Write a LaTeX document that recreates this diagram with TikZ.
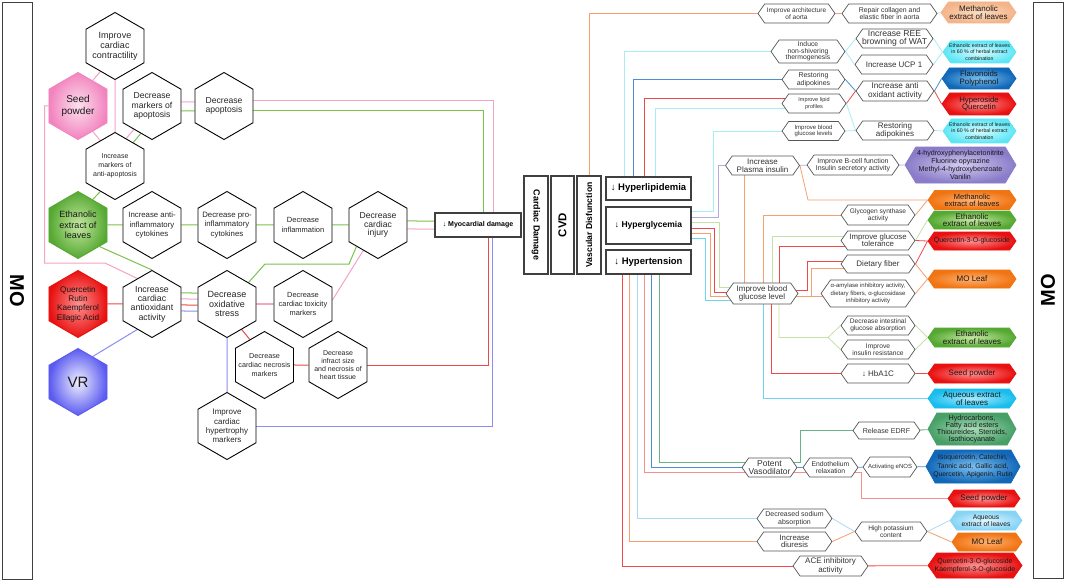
\documentclass[tikz,border=0pt]{standalone}
\usepackage{fontspec}
\setmainfont{Liberation Sans}
\usetikzlibrary{shapes.geometric,shapes.symbols}

\pgfdeclarelayer{bg}
\pgfsetlayers{bg,main}

\newcommand{\fsz}[2]{\fontsize{#1}{#2}\selectfont}

% line colours
\definecolor{linepink}{HTML}{F5A3C7}
\definecolor{linegreen}{HTML}{7CC14A}
\definecolor{linered}{HTML}{F04848}
\definecolor{lineviolet}{HTML}{8C8CF5}
\definecolor{lineorange}{HTML}{F5A070}
\definecolor{linecyan}{HTML}{A8ECF4}
\definecolor{lineblue}{HTML}{4A90D0}
\definecolor{linepurple}{HTML}{B8A8E0}
\definecolor{linelgreen}{HTML}{C4E2A6}
\definecolor{lineaqua}{HTML}{70D4F0}
\definecolor{linesky}{HTML}{A8DCF2}
\definecolor{linelred}{HTML}{F49090}
\definecolor{linedgreen}{HTML}{68B584}
\definecolor{linepeach}{HTML}{F5CBA8}
\definecolor{framegray}{HTML}{404040}
\definecolor{hexgray}{HTML}{555555}
% fill colours
\definecolor{pinkin}{HTML}{FCE0EE}   \definecolor{pinkout}{HTML}{F283BE}
\definecolor{greenin}{HTML}{C5E8A0}  \definecolor{greenout}{HTML}{55A832}
\definecolor{redin}{HTML}{FF9090}    \definecolor{redout}{HTML}{E81010}
\definecolor{vrin}{HTML}{F0F0FF}     \definecolor{vrout}{HTML}{5A5AF0}
\definecolor{peachin}{HTML}{FBDCC0}  \definecolor{peachout}{HTML}{F4B48A}
\definecolor{cyanin}{HTML}{D8FCFF}   \definecolor{cyanout}{HTML}{5EE6F5}
\definecolor{bluein}{HTML}{7CC0F0}   \definecolor{blueout}{HTML}{1268B8}
\definecolor{purplein}{HTML}{D4CCF2} \definecolor{purpleout}{HTML}{8A7CC8}
\definecolor{orangein}{HTML}{FFB070} \definecolor{orangeout}{HTML}{F07412}
\definecolor{aquain}{HTML}{A8ECFF}   \definecolor{aquaout}{HTML}{18BDEE}
\definecolor{dgreenin}{HTML}{A8DDB8} \definecolor{dgreenout}{HTML}{48A068}
\definecolor{skyin}{HTML}{E0F6FF}    \definecolor{skyout}{HTML}{88D4F5}

\tikzset{
  hexv/.style={regular polygon, regular polygon sides=6, shape border rotate=30,
    minimum size=67pt, inner sep=-12pt, draw=black, line width=0.9pt,
    fill=white, align=center, text=black!85},
  hexh/.style={signal, signal to=east and west, signal pointer angle=110,
    draw=hexgray, line width=0.7pt, fill=white, inner xsep=-4pt, inner ysep=0pt,
    align=center, text=black!80},
  hsz/.style 2 args={minimum width=#1, minimum height=#2},
  tint/.style 2 args={inner color=#1, outer color=#2, draw=#2, text=black!90},
  boxm/.style={draw=framegray, line width=1.1pt, fill=white, inner sep=0pt, align=center},
  link/.style={line width=1pt},
  wire/.style={line width=0.8pt}
}

\begin{document}
\begin{tikzpicture}[x=1pt,y=-1pt]
\useasboundingbox (0,0) rectangle (1065,583);

% side frames
\node[draw=framegray, line width=0.9pt, minimum width=30pt, minimum height=577pt, inner sep=0pt,
  font=\bfseries\fsz{20}{22}] (moL) at (17,290.5) {\rotatebox{-90}{MO}};
\node[draw=framegray, line width=0.9pt, minimum width=30pt, minimum height=576pt, inner sep=0pt,
  font=\bfseries\fsz{20}{22}] (moR) at (1048,290) {\rotatebox{90}{MO}};

% cardiac hexagons
\node[hexv, font=\fsz{9}{10}] (contr) at (115,46) {Improve\\cardiac\\contractility};
\node[hexv, tint={pinkin}{pinkout}, font=\fsz{10}{11.5}] (seed) at (78,106) {Seed\\powder};
\node[hexv, font=\fsz{8.6}{9.3}] (mapo) at (152,106) {Decrease\\markers of\\apoptosis};
\node[hexv, font=\fsz{8.6}{9.3}] (dapo) at (224,106) {Decrease\\apoptosis};
\node[hexv, font=\fsz{7}{9}] (antiapo) at (115,166) {Increase\\markers of\\anti-apoptosis};
\node[hexv, tint={greenin}{greenout}, font=\fsz{9}{10.7}] (eth) at (78,225) {Ethanolic\\extract of\\leaves};
\node[hexv, font=\fsz{7.8}{9.2}] (antiinf) at (152,225) {Increase anti-\\inflammatory\\cytokines};
\node[hexv, font=\fsz{7.8}{9.2}] (proinf) at (227,225) {Decrease pro-\\inflammatory\\cytokines};
\node[hexv, font=\fsz{7.5}{9.3}] (infl) at (303,225) {Decrease\\inflammation};
\node[hexv, font=\fsz{8.6}{8.8}] (injury) at (378,225) {Decrease\\cardiac\\injury};
\node[hexv, tint={redin}{redout}, font=\fsz{8.2}{9.3}] (querc) at (78,304) {Quercetin\\Rutin\\Kaempferol\\Ellagic Acid};
\node[hexv, font=\fsz{8.8}{9.3}] (antiox) at (152,304) {Increase\\cardiac\\antioxidant\\activity};
\node[hexv, font=\fsz{9}{9.3}] (oxid) at (227,304) {Decrease\\oxidative\\stress};
\node[hexv, font=\fsz{7.4}{9.3}] (toxic) at (303,304) {Decrease\\cardiac toxicity\\markers};
\node[hexv, tint={vrin}{vrout}, font=\fsz{15}{16}] (vr) at (78,382) {VR};
\node[hexv, font=\fsz{7.2}{9.3}] (necro) at (264.5,365) {Decrease\\cardiac necrosis\\markers};
\node[hexv, font=\fsz{7}{8.2}] (infarct) at (338,365) {Decrease\\infract size\\and necrosis of\\heart tissue};
\node[hexv, font=\fsz{8}{9.3}] (hypert) at (227,426) {Improve\\cardiac\\hypertrophy\\markers};
\node[boxm, minimum width=86pt, minimum height=24pt, font=\bfseries\fsz{7}{8}] (myo) at (478,225) {↓ Myocardial damage};

% central boxes
\node[boxm, minimum width=24pt, minimum height=98pt, font=\bfseries\fsz{9}{10}] (card) at (536,225) {\rotatebox{-90}{Cardiac Damage}};
\node[boxm, minimum width=23pt, minimum height=98pt, font=\bfseries\fsz{11.4}{12}] (cvd) at (562.5,225) {\rotatebox{90}{CVD}};
\node[boxm, minimum width=24pt, minimum height=98pt, font=\bfseries\fsz{8.6}{9}] (vasc) at (589,225) {\rotatebox{90}{Vascular Disfunction}};
\node[boxm, minimum width=85pt, minimum height=23pt, font=\bfseries\fsz{9.5}{10}] (hlip) at (648.5,188.5) {↓ Hyperlipidemia};
\node[boxm, minimum width=85pt, minimum height=37pt, font=\bfseries\fsz{8.5}{9}] (hgly) at (648.5,225.5) {↓ Hyperglycemia};
\node[boxm, minimum width=85pt, minimum height=24pt, font=\bfseries\fsz{9.5}{10}] (hten) at (648.5,262) {↓ Hypertension};

% vascular hexagons
\node[hexh, hsz={77pt}{19pt}, font=\fsz{6.5}{7.3}] (aorta) at (796.5,13.5) {Improve architecture\\of aorta};
\node[hexh, hsz={95pt}{19pt}, font=\fsz{6.9}{7.5}] (repair) at (889.5,13.5) {Repair collagen and\\elastic fiber in aorta};
\node[hexh, hsz={75pt}{21pt}, tint={peachin}{peachout}, font=\fsz{8}{8.3}] (meth1) at (978.5,12.5) {Methanolic\\extract of leaves};
\node[hexh, hsz={74pt}{23pt}, font=\fsz{6.8}{6.5}] (thermo) at (808,51.5) {Induce\\non-shivering\\thermogenesis};
\node[hexh, hsz={77pt}{19pt}, font=\fsz{8.6}{8.5}] (ree) at (894.5,38.5) {Increase REE\\browning of WAT};
\node[hexh, hsz={78pt}{19pt}, font=\fsz{8}{8.5}] (ucp) at (894,64.5) {Increase UCP 1};
\node[hexh, hsz={73pt}{22pt}, tint={cyanin}{cyanout}, font=\fsz{5.2}{6.3}] (eth60a) at (979.5,52) {Ethanolic extract of leaves\\in 60 \% of herbal extract\\combination};
\node[hexh, hsz={63pt}{19pt}, font=\fsz{7}{7.5}] (radip1) at (813.5,79.5) {Restoring\\adipokines};
\node[hexh, hsz={64pt}{19pt}, font=\fsz{5.5}{7.5}] (lipid) at (814,103.5) {Improve lipid\\profiles};
\node[hexh, hsz={63pt}{19pt}, font=\fsz{6}{6.8}] (bglev) at (813.5,131) {Improve blood\\glucose levels};
\node[hexh, hsz={78pt}{20pt}, font=\fsz{8.2}{8.3}] (antiox2) at (895,91) {Increase anti\\oxidant activity};
\node[hexh, hsz={78pt}{19pt}, font=\fsz{8}{8.3}] (radip2) at (895,130.5) {Restoring\\adipokines};
\node[hexh, hsz={74pt}{21pt}, tint={bluein}{blueout}, font=\fsz{7.8}{7.8}] (flav) at (979,78.5) {Flavonoids\\Polyphenol};
\node[hexh, hsz={74pt}{22pt}, tint={redin}{redout}, font=\fsz{7.8}{7.8}] (hyper) at (979,104) {Hyperoside\\Quercetin};
\node[hexh, hsz={73pt}{24pt}, tint={cyanin}{cyanout}, font=\fsz{5.2}{6.3}] (eth60b) at (979.5,131) {Ethanolic extract of leaves\\in 60 \% of herbal extract\\combination};
\node[hexh, hsz={74pt}{19pt}, font=\fsz{8}{7.8}] (insulin) at (762.5,165.5) {Increase\\Plasma insulin};
\node[hexh, hsz={92pt}{20pt}, font=\fsz{7}{7.5}] (bcell) at (853,165) {Improve B-cell function\\Insulin secretory activity};
\node[hexh, hsz={111pt}{36pt}, signal pointer angle=118, tint={purplein}{purpleout}, font=\fsz{7.1}{8}] (phenol) at (960.5,165) {4-hydroxyphenylacetonitrite\\Fluorine opyrazine\\Methyl-4-hydroxybenzoate\\Vanilin};
\node[hexh, hsz={88pt}{19pt}, tint={orangein}{orangeout}, font=\fsz{7.5}{6.8}] (meth2) at (972,200) {Methanolic\\extract of leaves};
\node[hexh, hsz={74pt}{20pt}, font=\fsz{6.6}{7.3}] (glyco) at (878,215) {Glycogen synthase\\activity};
\node[hexh, hsz={88pt}{18pt}, tint={greenin}{greenout}, font=\fsz{8}{7.5}] (eth2) at (972,220) {Ethanolic\\extract of leaves};
\node[hexh, hsz={74pt}{19pt}, font=\fsz{7.8}{7.3}] (gtol) at (878,240.5) {Improve glucose\\tolerance};
\node[hexh, hsz={88pt}{18pt}, tint={redin}{redout}, font=\fsz{7}{8}] (q3g) at (972,241) {Quercetin-3-O-glucoside};
\node[hexh, hsz={74pt}{18pt}, font=\fsz{8}{8}] (fiber) at (878,264) {Dietary fiber};
\node[hexh, hsz={88pt}{18pt}, tint={orangein}{orangeout}, font=\fsz{8}{8}] (moleaf1) at (972,279) {MO Leaf};
\node[hexh, hsz={72pt}{21pt}, font=\fsz{8}{7.5}] (bgl) at (762,293.5) {Improve blood\\glucose level};
\node[hexh, hsz={94pt}{27pt}, font=\fsz{6}{7.2}] (amyl) at (868,293.5) {α-amylase inhibitory activity,\\dietary fibers, α-glucosidase\\inhibitory activity};
\node[hexh, hsz={74pt}{19pt}, font=\fsz{6.6}{7.5}] (dint) at (878,325.5) {Decrease intestinal\\glucose absorption};
\node[hexh, hsz={74pt}{19pt}, font=\fsz{6.7}{7.5}] (ires) at (878,349.5) {Improve\\insulin resistance};
\node[hexh, hsz={88pt}{19pt}, tint={greenin}{greenout}, font=\fsz{8}{8.3}] (eth3) at (972,337.5) {Ethanolic\\extract of leaves};
\node[hexh, hsz={74pt}{19pt}, font=\fsz{8}{8}] (hba) at (878,373.5) {↓ HbA1C};
\node[hexh, hsz={88pt}{19pt}, tint={redin}{redout}, font=\fsz{7.9}{8}] (seed2) at (972,373.5) {Seed powder};
\node[hexh, hsz={88pt}{19pt}, tint={aquain}{aquaout}, font=\fsz{8}{7.7}] (aq1) at (972,398.5) {Aqueous extract\\of leaves};
\node[hexh, hsz={67pt}{17pt}, font=\fsz{7.1}{8}] (edrf) at (886.5,430.5) {Release EDRF};
\node[hexh, hsz={88pt}{32pt}, signal pointer angle=122, tint={dgreenin}{dgreenout}, font=\fsz{7.2}{7}] (hydro) at (972,429) {Hydrocarbons,\\Fatty acid esters\\Thioureides, Steroids,\\Isothiocyanate};
\node[hexh, hsz={55pt}{19pt}, font=\fsz{8.5}{7.8}] (vaso) at (769.5,467.5) {Potent\\Vasodilator};
\node[hexh, hsz={55pt}{19pt}, font=\fsz{6.8}{7.3}] (endo) at (830.5,467.5) {Endothelium\\relaxation};
\node[hexh, hsz={54pt}{20pt}, font=\fsz{6}{7}] (enos) at (890,467) {Activating eNOS};
\node[hexh, hsz={94pt}{33pt}, signal pointer angle=122, tint={bluein}{blueout}, font=\fsz{6.8}{8.5}] (isoq) at (973,466.5) {Isoquercetin, Catechin,\\Tannic acid, Gallic acid,\\Quercetin, Apigenin, Rutin};
\node[hexh, hsz={72pt}{17pt}, tint={redin}{redout}, font=\fsz{8}{8}] (seed3) at (984,498.5) {Seed powder};
\node[hexh, hsz={75pt}{19pt}, font=\fsz{7}{7.5}] (sodium) at (794.5,518.5) {Decreased sodium\\absorption};
\node[hexh, hsz={75pt}{19pt}, font=\fsz{7.8}{7.4}] (diur) at (794.5,541.5) {Increase\\diuresis};
\node[hexh, hsz={72pt}{19pt}, font=\fsz{6.6}{7}] (kpot) at (891,531.5) {High potassium\\content};
\node[hexh, hsz={72pt}{19pt}, tint={skyin}{skyout}, font=\fsz{6.7}{7.3}] (aq2) at (986,520.5) {Aqueous\\extract of leaves};
\node[hexh, hsz={70pt}{18pt}, tint={orangein}{orangeout}, font=\fsz{8}{8}] (moleaf2) at (987,542) {MO Leaf};
\node[hexh, hsz={75pt}{20pt}, font=\fsz{8}{7.3}] (ace) at (830.5,566) {ACE inhibitory\\activity};
\node[hexh, hsz={94pt}{25pt}, tint={redin}{redout}, font=\fsz{6.9}{8}] (qk) at (975,565.5) {Quercetin-3-O-glucoside\\Kaempferol-3-O-glucoside};

\begin{pgfonlayer}{bg}
\fill[white] (0,0) rectangle (1065,583);

% cardiac side
\draw[link, linepink] (seed.60) -- (contr.-120);
\draw[link, linepink] (seed.-60) -- (antiapo.120);
\draw[link, linepink] (contr) -- (antiapo);
\draw[link, linepink] ([shift={(-3.5,-2)}]antiapo.60) -- ([shift={(-3.5,-2)}]mapo.-120);
\draw[link, linegreen] ([shift={(3.5,2)}]antiapo.60) -- ([shift={(3.5,2)}]mapo.-120);
\draw[link, linepink] ([yshift=4pt]mapo.east) -- ([yshift=4pt]dapo.west);
\draw[link, linegreen] ([yshift=-5pt]mapo.east) -- ([yshift=-5pt]dapo.west);
\draw[link, linepink] ([yshift=5pt]dapo.east) -| ([xshift=15pt]myo.north);
\draw[link, linegreen] ([yshift=-5pt]dapo.east) -| ([xshift=5pt]myo.north);
\draw[link, linepink] (seed.west) -- ++(-4,0) |- (105,263) -- (antiox.120);
\draw[link, linegreen] (eth.60) -- (antiapo.-120);
\draw[link, linegreen] (eth) -- (antiinf);
\draw[link, linegreen] (antiinf) -- (proinf);
\draw[link, linegreen] (proinf) -- (infl);
\draw[link, linegreen] (infl) -- (injury);
\draw[link, linegreen] ([yshift=4pt]injury.east) -- ([yshift=4pt]myo.west);
\draw[link, linepink] ([yshift=-4pt]injury.east) -- ([yshift=-4pt]myo.west);
\draw[link, linegreen] (eth.south east) -- (antiox.north);
\draw[link, linered] (querc) -- (antiox);
\draw[link, lineviolet] (vr.60) -- (antiox.-120);
\draw[link, linegreen] ([yshift=11pt]antiox.east) -- ([yshift=11pt]oxid.west);
\draw[link, linepink] ([yshift=5pt]antiox.east) -- ([yshift=5pt]oxid.west);
\draw[link, linered] ([yshift=-1pt]antiox.east) -- ([yshift=-1pt]oxid.west);
\draw[link, lineviolet] ([yshift=-7pt]antiox.east) -- ([yshift=-7pt]oxid.west);
\draw[link, linepink, line width=1.6pt] (oxid) -- (toxic);
\draw[link, linepink] ([yshift=4pt]toxic.east) -- (injury.-120);
\draw[link, linegreen] (oxid.north east) -- (265,264) -- (349,264) -- (injury.south west);
\draw[link, linered] (oxid.-60) -- (necro.120);
\draw[link, linered] (necro) -- (infarct);
\draw[link, linered] (infarct.east) -| ([xshift=10pt]myo.south);
\draw[link, lineviolet] (oxid.south) -- (hypert.north);
\draw[link, lineviolet] (hypert.east) -| ([xshift=14pt]myo.south);

% hyperlipidemia
\draw[wire, lineorange] (vasc.north) |- (aorta.west);
\draw[wire, lineorange] (aorta) -- (repair);
\draw[wire, linepeach] (repair) -- (meth1);
\draw[wire, linecyan] ([xshift=-24.5pt]hlip.north) |- (thermo.west);
\draw[wire, linecyan] (thermo.east) -- (ree.west);
\draw[wire, linecyan] (thermo.east) -- (ucp.west);
\draw[wire, linecyan] (ree.east) -- (eth60a.west);
\draw[wire, linecyan] (ucp.east) -- (eth60a.west);
\draw[wire, lineblue] ([xshift=-15.5pt]hlip.north) |- (radip1.west);
\draw[wire, lineblue] (radip1.east) -- (antiox2.west);
\draw[wire, lineblue] (antiox2.east) -- (flav.west);
\draw[wire, linered] ([xshift=-4.5pt]hlip.north) |- ([yshift=5.5pt]lipid.center);
\draw[wire, linecyan] ([xshift=6.5pt]hlip.north) |- ([yshift=-4.5pt]lipid.center);
\draw[wire, linered] (lipid.east) -- (antiox2.west);
\draw[wire, linered] (antiox2.east) -- (hyper.west);
\draw[wire, linecyan] (lipid.east) -- (radip2.west);
\draw[wire, linecyan] (bglev.east) -- (radip2.west);
\draw[wire, linecyan] (radip2.east) -- (eth60b.west);

% hyperglycemia
\draw[wire, linecyan] ([yshift=14.5pt]hgly.east) -- ++(22,0) |- (bglev.west);
\draw[wire, linepurple] ([yshift=8.5pt]hgly.east) -- ++(27,0) |- (insulin.west);
\draw[wire, linepurple] (insulin) -- (bcell);
\draw[wire, linepurple] (bcell) -- (phenol);
\draw[wire, lineorange] (insulin.east) -- (808,200) -- (meth2.west);
\draw[wire, lineorange] ([xshift=-18.5pt]insulin.south) -- ([xshift=-18pt]bgl.north);
\draw[wire, linelgreen] ([yshift=3.5pt]hgly.east) -| ([xshift=-43pt,yshift=6.5pt]bgl.center) -- ([yshift=6.5pt]bgl.center);
\draw[wire, linered] ([yshift=-2.5pt]hgly.east) -| ([xshift=-48pt,yshift=1.5pt]bgl.center) -- ([yshift=1.5pt]bgl.center);
\draw[wire, lineorange] ([yshift=-7.5pt]hgly.east) -| ([xshift=-52pt,yshift=-3pt]bgl.center) -- ([yshift=-3pt]bgl.center);
\draw[wire, lineaqua] ([yshift=-12.5pt]hgly.east) -| ([xshift=-57pt,yshift=-6.5pt]bgl.center) -- ([yshift=-6.5pt]bgl.center);
\draw[wire, lineorange] ([xshift=1pt]bgl.north) |- (glyco.west);
\draw[wire, lineorange] (glyco.east) -- (meth2.west);
\draw[wire, linelgreen] ([xshift=10pt]bgl.north) |- ([yshift=4.5pt]gtol.center);
\draw[wire, linered] ([xshift=17pt]bgl.north) |- ([yshift=-5.5pt]gtol.center);
\draw[wire, linelgreen] (gtol.east) -- (eth2.west);
\draw[wire, linered] (gtol.east) -- (q3g.west);
\draw[wire, linered] ([yshift=3.5pt]bgl.center) -| ([xshift=-71pt,yshift=3pt]fiber.center) -- ([yshift=3pt]fiber.center);
\draw[wire, lineorange] ([yshift=-3pt]bgl.center) -- ([yshift=-3pt]amyl.center);
\draw[wire, lineorange] ([xshift=-57pt,yshift=-3pt]amyl.center) |- ([yshift=-4pt]fiber.center);
\draw[wire, linered] (fiber.east) -- (q3g.west);
\draw[wire, lineorange] (fiber.east) -- (moleaf1.west);
\draw[wire, lineorange] (amyl.east) -- (moleaf1.west);
\draw[wire, lineaqua] ([xshift=1pt]bgl.south) |- (aq1.west);
\draw[wire, linered] ([xshift=9pt]bgl.south) |- (hba.west);
\coordinate (gsplit) at (828,337.5);
\draw[wire, linelgreen] ([xshift=17pt]bgl.south) |- (gsplit) -- (dint.west);
\draw[wire, linelgreen] (gsplit) -- (ires.west);
\draw[wire, linelgreen] (dint.east) -- (eth3.west);
\draw[wire, linelgreen] (ires.east) -- (eth3.west);
\draw[wire, linered] (hba) -- (seed2);

% hypertension
\draw[wire, linered] ([xshift=-26.5pt]hten.south) |- (ace.west);
\draw[wire, lineorange] ([xshift=-19.5pt]hten.south) |- (diur.west);
\draw[wire, linesky] ([xshift=-11.5pt]hten.south) |- (sodium.west);
\draw[wire, linelred] ([xshift=-4.5pt]hten.south) |- ([yshift=-4.5pt]vaso.center);
\draw[wire, lineblue] ([xshift=2.5pt]hten.south) |- (vaso.center);
\draw[wire, linedgreen] ([xshift=10.5pt]hten.south) |- ([yshift=5.5pt]vaso.center);
\draw[wire, linedgreen] ([yshift=5.5pt]vaso.center) -| ([xshift=-86.5pt]edrf.center) -- (edrf.center);
\draw[wire, linedgreen] (edrf) -- (hydro);
\draw[wire, lineblue] (vaso) -- (endo);
\draw[wire, linelred] ([yshift=-4.5pt]vaso.center) -- ([yshift=-4.5pt]endo.center);
\draw[wire, lineblue] (endo) -- (enos);
\draw[wire, lineblue] (enos) -- (isoq);
\draw[wire, linelred] ([yshift=-4.5pt]endo.center) -| ([xshift=-123pt]seed3.center) -- (seed3.center);
\draw[wire, linesky] (sodium.east) -- (kpot.west);
\draw[wire, lineorange] (diur.east) -- (kpot.west);
\draw[wire, linesky] (kpot.east) -- (aq2.west);
\draw[wire, lineorange] (kpot.east) -- (moleaf2.west);
\draw[wire, linered] (ace) -- (qk);
\end{pgfonlayer}
\end{tikzpicture}
\end{document}
